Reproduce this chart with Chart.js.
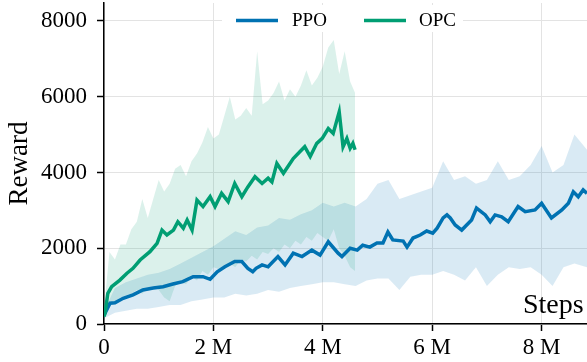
<!DOCTYPE html>
<html>
<head>
<meta charset="utf-8">
<script src="https://cdn.jsdelivr.net/npm/chart.js@4.4.1/dist/chart.umd.min.js"></script>
<style>
  html, body { margin: 0; padding: 0; background: #fff; }
  #wrap { width: 587px; height: 362px; position: relative; }
</style>
</head>
<body>
<div id="wrap"><canvas id="chart"></canvas></div>
<script>
// steps are in millions
const ppoSteps = [0, 0.02, 0.11, 0.20, 0.35, 0.53, 0.71, 0.90, 1.08, 1.26, 1.44, 1.63, 1.81, 1.94, 2.07, 2.21, 2.39, 2.52, 2.63, 2.72, 2.78, 2.89, 3.00, 3.18, 3.31, 3.46, 3.62, 3.80, 3.95, 4.10, 4.28, 4.35, 4.50, 4.63, 4.73, 4.86, 4.99, 5.10, 5.19, 5.28, 5.47, 5.54, 5.65, 5.78, 5.90, 6.01, 6.09, 6.20, 6.27, 6.33, 6.42, 6.54, 6.72, 6.81, 6.97, 7.06, 7.15, 7.27, 7.39, 7.57, 7.70, 7.88, 8.00, 8.18, 8.37, 8.49, 8.58, 8.67, 8.76, 8.83];
const ppoReward = [250, 290, 550, 560, 680, 770, 900, 950, 985, 1055, 1120, 1250, 1250, 1180, 1380, 1510, 1650, 1650, 1470, 1380, 1470, 1560, 1510, 1780, 1560, 1870, 1780, 1950, 1820, 2170, 1870, 1780, 2000, 1950, 2080, 2030, 2140, 2140, 2430, 2220, 2190, 2030, 2270, 2350, 2455, 2400, 2530, 2800, 2880, 2800, 2614, 2480, 2745, 3060, 2880, 2700, 2880, 2830, 2700, 3100, 2965, 3010, 3190, 2800, 3010, 3190, 3490, 3360, 3540, 3450];

const opcSteps = [0, 0.02, 0.07, 0.14, 0.29, 0.42, 0.53, 0.66, 0.84, 0.97, 1.06, 1.15, 1.27, 1.35, 1.45, 1.52, 1.61, 1.70, 1.81, 1.94, 2.03, 2.15, 2.27, 2.39, 2.52, 2.63, 2.76, 2.89, 3.00, 3.07, 3.16, 3.28, 3.46, 3.58, 3.67, 3.77, 3.89, 3.99, 4.10, 4.19, 4.30, 4.37, 4.44, 4.50, 4.55, 4.59];
const opcReward = [200, 290, 810, 985, 1160, 1340, 1470, 1690, 1910, 2130, 2480, 2350, 2480, 2700, 2530, 2745, 2480, 3270, 3100, 3360, 3100, 3450, 3230, 3710, 3360, 3620, 3890, 3710, 3850, 3750, 4240, 3980, 4370, 4550, 4680, 4420, 4770, 4900, 5160, 5030, 5600, 4680, 4900, 4640, 4770, 4600];

// spread of the raw episodes around each curve
const ppoBandSteps = [0, 0.2, 0.4, 0.6, 0.8, 1.0, 1.2, 1.4, 1.6, 1.8, 2.0, 2.2, 2.4, 2.6, 2.8, 3.0, 3.2, 3.4, 3.6, 3.8, 4.0, 4.2, 4.4, 4.6, 4.8, 5.0, 5.2, 5.4, 5.6, 5.8, 6.0, 6.2, 6.4, 6.6, 6.8, 7.0, 7.2, 7.4, 7.6, 7.8, 8.0, 8.2, 8.4, 8.6, 8.83];
const ppoHigh = [350, 950, 1100, 1200, 1300, 1350, 1450, 1600, 1750, 1900, 2050, 2250, 2450, 2350, 2550, 2600, 2800, 2750, 2900, 3000, 3200, 3100, 3200, 3100, 3300, 3700, 3800, 3300, 3400, 3500, 3600, 4300, 3800, 3900, 3700, 3800, 4300, 3800, 3900, 4200, 4700, 4000, 4200, 5000, 4600];
const ppoLow = [150, 300, 350, 400, 400, 450, 500, 500, 600, 650, 700, 700, 800, 750, 800, 900, 850, 950, 1000, 1050, 1100, 1100, 1050, 1000, 1150, 1200, 1200, 900, 1250, 1300, 1300, 1400, 1300, 1150, 1500, 1000, 1300, 1500, 1450, 1500, 1300, 1000, 1500, 1600, 1500];

const opcBandSteps = [0, 0.1, 0.2, 0.3, 0.4, 0.5, 0.6, 0.7, 0.8, 0.9, 1.0, 1.1, 1.2, 1.3, 1.4, 1.5, 1.6, 1.7, 1.8, 1.9, 2.0, 2.1, 2.2, 2.3, 2.4, 2.5, 2.6, 2.7, 2.8, 2.9, 3.0, 3.1, 3.2, 3.3, 3.4, 3.5, 3.6, 3.7, 3.8, 3.9, 4.0, 4.1, 4.2, 4.3, 4.4, 4.5, 4.59];
const opcHigh = [400, 1900, 1700, 2100, 2100, 2500, 2700, 3300, 2800, 3300, 3800, 3500, 3700, 4100, 4200, 3900, 4300, 4500, 4800, 5200, 4900, 5000, 5500, 6000, 5400, 5500, 5700, 5500, 7200, 5800, 5900, 6100, 6400, 5900, 6200, 6000, 6300, 6700, 6300, 6500, 6800, 7300, 7500, 6600, 7200, 6400, 6100];
const opcLow = [150, 500, 600, 700, 750, 800, 900, 800, 950, 1000, 900, 700, 600, 1000, 1100, 1050, 1250, 1150, 1400, 1300, 1500, 1450, 1550, 1600, 1500, 1700, 1650, 1800, 1700, 1900, 1850, 2000, 1900, 2100, 2000, 2200, 2100, 2300, 2200, 2400, 2300, 2200, 2500, 2000, 1800, 1500, 1400];

const xTicks = [0, 2, 4, 6, 8];
const yTicks = [0, 2000, 4000, 6000, 8000];
const seriesNames = ['PPO', 'OPC'];

const blue = '#0072b2';
const green = '#009e73';
const serif = "'Liberation Serif', 'Times New Roman', serif";

const pts = (xs, ys) => xs.map((x, i) => ({ x: x, y: ys[i] }));

// legend box and the "Steps" label sit inside the plot
const overlay = {
    id: 'overlay',
    afterDatasetsDraw(chart) {
        const ctx = chart.ctx;
        ctx.save();
        ctx.fillStyle = '#fff';
        ctx.fillRect(222, 5, 241, 27);

        ctx.lineWidth = 3.5;
        ctx.strokeStyle = blue;
        ctx.beginPath(); ctx.moveTo(236, 20.5); ctx.lineTo(278, 20.5); ctx.stroke();
        ctx.strokeStyle = green;
        ctx.beginPath(); ctx.moveTo(364, 20.5); ctx.lineTo(406, 20.5); ctx.stroke();

        ctx.fillStyle = '#000';
        ctx.font = '19px ' + serif;
        ctx.textBaseline = 'middle';
        ctx.textAlign = 'left';
        ctx.fillText(seriesNames[0], 292, 21);
        ctx.fillText(seriesNames[1], 419, 21);

        ctx.font = '28px ' + serif;
        ctx.textBaseline = 'alphabetic';
        ctx.fillText('Steps', 523, 313);
        ctx.restore();
    }
};

new Chart(document.getElementById('chart'), {
    type: 'line',
    data: {
        datasets: [
            { data: pts(ppoSteps, ppoReward), borderColor: blue, borderWidth: 3.5, order: 1 },
            { data: pts(opcSteps, opcReward), borderColor: green, borderWidth: 3.5, order: 0 },
            { data: pts(ppoBandSteps, ppoHigh), borderWidth: 0, borderColor: 'rgba(0,0,0,0)', fill: 3, backgroundColor: 'rgba(0,114,178,0.15)', order: 3 },
            { data: pts(ppoBandSteps, ppoLow), borderWidth: 0, borderColor: 'rgba(0,0,0,0)', order: 3 },
            { data: pts(opcBandSteps, opcHigh), borderWidth: 0, borderColor: 'rgba(0,0,0,0)', fill: 5, backgroundColor: 'rgba(0,158,115,0.14)', order: 2 },
            { data: pts(opcBandSteps, opcLow), borderWidth: 0, borderColor: 'rgba(0,0,0,0)', order: 2 }
        ]
    },
    options: {
        responsive: true,
        maintainAspectRatio: false,
        animation: false,
        layout: { padding: { top: 3, right: 0, left: 0, bottom: 0 } },
        elements: { point: { radius: 0 }, line: { tension: 0 } },
        plugins: { legend: { display: false }, tooltip: { enabled: false } },
        scales: {
            x: {
                type: 'linear',
                min: 0,
                max: 8.83,
                afterFit: s => { s.height = 38; s.paddingLeft = 0; s.paddingRight = 0; },
                afterBuildTicks: s => { s.ticks = xTicks.map(v => ({ value: v })); },
                ticks: {
                    color: '#000',
                    font: { family: serif, size: 23 },
                    padding: 3,
                    maxRotation: 0,
                    callback: v => v === 0 ? '0' : v + ' M'
                },
                grid: { color: '#e3e3e3', lineWidth: 1, tickColor: '#000', tickLength: 7, tickWidth: 1.5 },
                border: { color: '#000', width: 1.5 }
            },
            y: {
                min: 0,
                max: 8475,
                afterFit: s => { s.width = 104; s.paddingTop = 0; s.paddingBottom = 0; },
                afterBuildTicks: s => { s.ticks = yTicks.map(v => ({ value: v })); },
                ticks: {
                    color: '#000',
                    font: { family: serif, size: 23 },
                    padding: 10,
                    callback: v => String(v)
                },
                title: {
                    display: true,
                    text: 'Reward',
                    color: '#000',
                    font: { family: serif, size: 27 },
                    padding: { top: 4, bottom: 4 }
                },
                grid: { color: '#e3e3e3', lineWidth: 1, tickColor: '#000', tickLength: 7, tickWidth: 1.5 },
                border: { color: '#000', width: 1.5 }
            }
        }
    },
    plugins: [overlay]
});
</script>
</body>
</html>
